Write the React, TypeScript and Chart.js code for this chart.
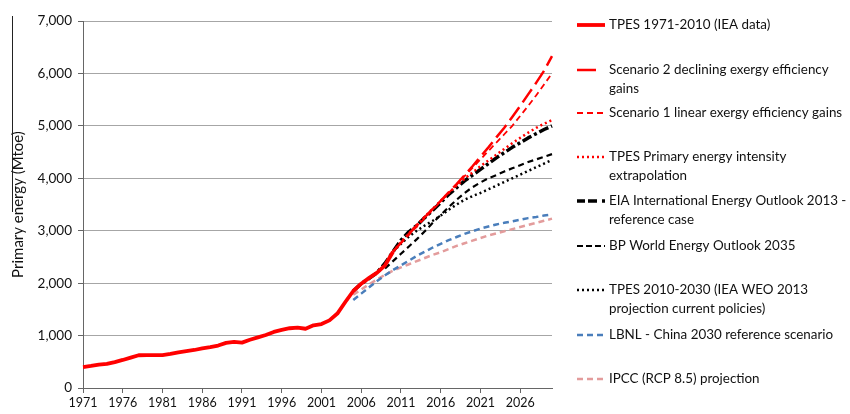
import React, { useEffect, useRef } from 'react';
import { Chart, registerables } from 'chart.js';

Chart.register(...registerables);

// ---------- data ----------
const FIRST_YEAR = 1971;
const LAST_YEAR = 2030;
const years: string[] = [];
for (let y = FIRST_YEAR; y <= LAST_YEAR; y++) years.push(String(y));

const yTicks = [0, 1000, 2000, 3000, 4000, 5000, 6000, 7000];

// TPES 1971-2010 (IEA data), Mtoe
const tpesHistoryStart = 1971;
const tpesHistory = [
  400, 420, 445, 460, 495, 535, 580, 625, 628, 628,
  628, 650, 680, 705, 725, 755, 780, 810, 860, 880,
  865, 920, 965, 1010, 1070, 1110, 1140, 1150, 1130, 1195,
  1220, 1290, 1420, 1640, 1850, 1990, 2100, 2200, 2340, 2600,
];

const scenario2Start = 2010;
const scenario2 = [
  2600, 2770, 2940, 3100, 3260, 3415, 3570, 3730, 3890, 4060,
  4230, 4410, 4590, 4780, 4965, 5170, 5380, 5600, 5820, 6050, 6330,
];

const scenario1Start = 2010;
const scenario1 = [
  2600, 2760, 2920, 3080, 3240, 3400, 3560, 3720, 3880, 4040,
  4200, 4360, 4520, 4680, 4840, 5000, 5190, 5380, 5580, 5790, 6000,
];

const intensityStart = 2010;
const intensity = [
  2600, 2780, 2950, 3110, 3270, 3420, 3570, 3720, 3860, 3990,
  4110, 4230, 4340, 4450, 4560, 4670, 4770, 4870, 4960, 5040, 5110,
];

const eiaStart = 2005;
const eia = [
  1850, 1990, 2090, 2200, 2380, 2600, 2820, 2980, 3100, 3250,
  3390, 3540, 3690, 3820, 3950, 4060, 4170, 4280, 4390, 4490,
  4590, 4680, 4770, 4850, 4930, 5000,
];

const bpStart = 2009;
const bp = [
  2280, 2420, 2560, 2700, 2840, 2990, 3150, 3300, 3450, 3590,
  3720, 3830, 3920, 4000, 4060, 4130, 4190, 4250, 4310, 4360,
  4410, 4460,
];

const weoStart = 2010;
const weo = [
  2600, 2750, 2890, 3000, 3100, 3190, 3290, 3400, 3500, 3590,
  3660, 3720, 3790, 3860, 3930, 4000, 4070, 4140, 4210, 4280, 4350,
];

const lbnlStart = 2005;
const lbnl = [
  1680, 1800, 1920, 2040, 2150, 2250, 2340, 2430, 2520, 2600,
  2680, 2750, 2820, 2880, 2940, 2990, 3040, 3080, 3120, 3150,
  3180, 3210, 3240, 3260, 3290, 3310,
];

const ipccStart = 2005;
const ipcc = [
  1780, 1880, 1980, 2070, 2160, 2240, 2300, 2360, 2420, 2480,
  2540, 2590, 2650, 2710, 2760, 2810, 2860, 2910, 2950, 2990,
  3030, 3070, 3110, 3150, 3190, 3230,
];

const legendLabels: string[][] = [
  ['TPES 1971-2010 (IEA data)'],
  ['Scenario 2 declining exergy efficiency', 'gains'],
  ['Scenario 1 linear exergy efficiency gains'],
  ['TPES Primary energy intensity', 'extrapolation'],
  ['EIA International Energy Outlook 2013 -', 'reference case'],
  ['BP World Energy Outlook 2035'],
  ['TPES 2010-2030 (IEA WEO 2013', 'projection current policies)'],
  ['LBNL - China 2030 reference scenario'],
  ['IPCC (RCP 8.5) projection'],
];

const yAxisTitle = 'Primary energy (Mtoe)';

// ---------- helpers ----------
function place(start: number, values: number[]): (number | null)[] {
  return years.map((y) => {
    const idx = Number(y) - start;
    return idx >= 0 && idx < values.length ? values[idx] : null;
  });
}

const FONT = 'Lato, "Liberation Sans", sans-serif';
const RED = '#FF0000';
const BLACK = '#000000';
const BLUE = '#4A7EBB';
const PINK = '#E39C9C';

const legendY = [25, 70, 113, 157, 201, 246, 290, 335, 379];
const legendDash = [
  [],
  [19, 20],
  [6, 4],
  [2, 3],
  [8, 3, 9, 5, 3, 10],
  [6, 3],
  [2, 3],
  [6, 4],
  [6, 4],
];

const sideLegend = {
  id: 'sideLegend',
  afterDraw(chart: any) {
    const ctx = chart.ctx as CanvasRenderingContext2D;
    ctx.save();
    chart.data.datasets.forEach((ds: any, i: number) => {
      const y = legendY[i];
      ctx.strokeStyle = ds.borderColor;
      ctx.lineWidth = ds.borderWidth;
      ctx.setLineDash(legendDash[i]);
      ctx.lineCap = 'butt';
      ctx.beginPath();
      ctx.moveTo(577, y);
      ctx.lineTo(605, y);
      ctx.stroke();
      ctx.setLineDash([]);
      ctx.fillStyle = '#111';
      ctx.font = `13.4px ${FONT}`;
      ctx.textBaseline = 'middle';
      ctx.textAlign = 'left';
      legendLabels[i].forEach((t, j) => ctx.fillText(t, 609, y + j * 18.5));
    });
    // thin vertical line beside the axis title
    ctx.strokeStyle = '#222';
    ctx.lineWidth = 1;
    ctx.beginPath();
    ctx.moveTo(12.5, 16);
    ctx.lineTo(12.5, 212);
    ctx.stroke();
    ctx.restore();
  },
};

export default function App() {
  const canvasRef = useRef<HTMLCanvasElement | null>(null);

  useEffect(() => {
    if (!canvasRef.current) return;
    const mk = (data: (number | null)[], color: string, width: number, dash: number[]) => ({
      data,
      borderColor: color,
      backgroundColor: color,
      borderWidth: width,
      borderDash: dash,
      pointRadius: 0,
      pointHoverRadius: 0,
      fill: false,
      tension: 0,
      spanGaps: false,
      borderJoinStyle: 'round' as const,
    });
    const datasets = [
      { label: legendLabels[0].join(' '), ...mk(place(tpesHistoryStart, tpesHistory), RED, 3.8, []) },
      { label: legendLabels[1].join(' '), ...mk(place(scenario2Start, scenario2), RED, 2.5, [16, 6]) },
      { label: legendLabels[2].join(' '), ...mk(place(scenario1Start, scenario1), RED, 1.8, [6, 4]) },
      { label: legendLabels[3].join(' '), ...mk(place(intensityStart, intensity), RED, 2.5, [2, 3]) },
      { label: legendLabels[4].join(' '), ...mk(place(eiaStart, eia), BLACK, 3.5, [10, 3, 3, 3]) },
      { label: legendLabels[5].join(' '), ...mk(place(bpStart, bp), BLACK, 2.2, [6, 4]) },
      { label: legendLabels[6].join(' '), ...mk(place(weoStart, weo), BLACK, 2.5, [2, 3]) },
      { label: legendLabels[7].join(' '), ...mk(place(lbnlStart, lbnl), BLUE, 2.5, [6, 4]) },
      { label: legendLabels[8].join(' '), ...mk(place(ipccStart, ipcc), PINK, 2.5, [6, 4]) },
    ];

    const chart = new Chart(canvasRef.current, {
      type: 'line',
      data: { labels: years, datasets },
      options: {
        animation: false,
        responsive: false,
        devicePixelRatio: 1,
        layout: { padding: { left: 0, top: 21, right: 298, bottom: 0 } },
        plugins: {
          legend: { display: false },
          tooltip: { enabled: false },
        },
        scales: {
          x: {
            type: 'category',
            offset: false,
            grid: {
              drawOnChartArea: false,
              drawTicks: true,
              tickLength: 5,
              color: (c: any) => (c.index % 5 === 0 ? '#666' : 'rgba(0,0,0,0)'),
            },
            border: { display: true, color: '#666', width: 1 },
            ticks: {
              autoSkip: false,
              maxRotation: 0,
              minRotation: 0,
              padding: 2,
              color: '#111',
              font: { family: FONT, size: 12.5 },
              callback: (_v: any, i: number) => (i % 5 === 0 ? years[i] : ''),
            },
            afterFit: (s: any) => {
              s.height = 26;
            },
          },
          y: {
            min: yTicks[0],
            max: yTicks[yTicks.length - 1],
            afterBuildTicks: (s: any) => {
              s.ticks = yTicks.map((v) => ({ value: v }));
            },
            grid: {
              color: '#A6A6A6',
              tickColor: '#666',
              tickLength: 5,
              lineWidth: 1,
            },
            border: { display: true, color: '#666', width: 1 },
            ticks: {
              padding: 6,
              color: '#111',
              font: { family: FONT, size: 13.5 },
              callback: (v: any) => Number(v).toLocaleString('en-US'),
            },
            title: {
              display: true,
              text: yAxisTitle,
              color: '#111',
              font: { family: FONT, size: 15 },
              padding: { top: 9, bottom: 0 },
            },
            afterFit: (s: any) => {
              s.width = 83;
            },
          },
        },
      },
      plugins: [sideLegend],
    });
    return () => chart.destroy();
  }, []);

  return (
    <div style={{ position: 'absolute', left: 0, top: 0, width: 850, height: 414, background: '#fff' }}>
      <canvas ref={canvasRef} width={850} height={414} />
    </div>
  );
}
